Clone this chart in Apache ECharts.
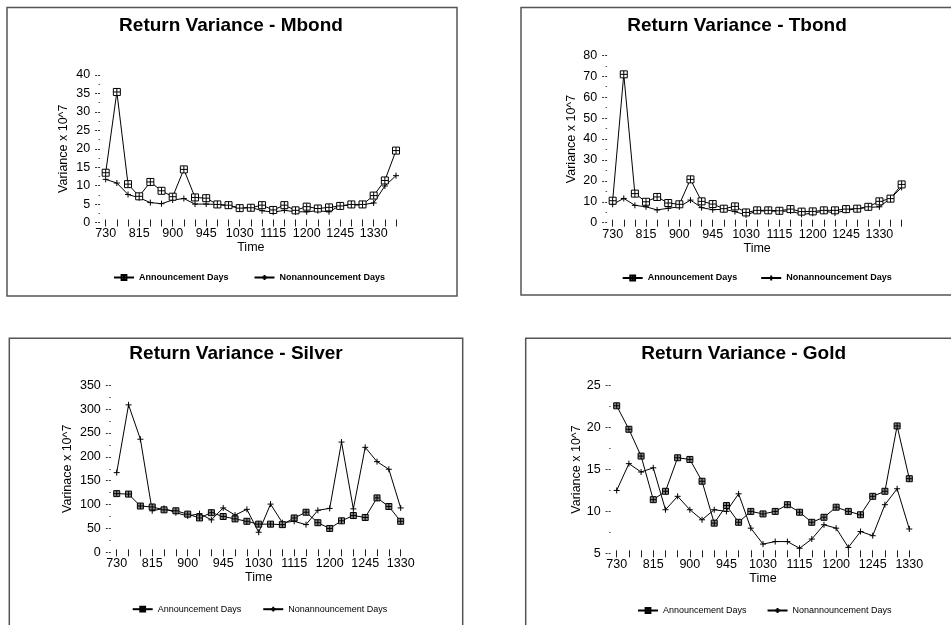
<!DOCTYPE html>
<html>
<head>
<meta charset="utf-8">
<script src="https://cdn.jsdelivr.net/npm/echarts@6/dist/echarts.min.js"></script>
<style>
  html, body { margin: 0; padding: 0; background: #fff; }
  .pane { position: absolute; left: 0; top: 0; width: 951px; height: 625px; }
</style>
</head>
<body>
<div id="c1" class="pane"></div>
<div id="c2" class="pane"></div>
<div id="c3" class="pane"></div>
<div id="c4" class="pane"></div>
<script>
// ---- Data ----
const timesBond = ['730','745','800','815','830','845','900','915','930','945','1000','1015','1030','1045','1100','1115','1130','1145','1200','1215','1230','1245','1300','1315','1330','1345','1400'];
const timesMetal = ['730','745','800','815','830','845','900','915','930','945','1000','1015','1030','1045','1100','1115','1130','1145','1200','1215','1230','1245','1300','1315','1330'];

const mbondAnn = [13.5,35.4,10.4,7.1,11.0,8.6,7.0,14.4,6.8,6.6,4.9,4.7,3.9,4.0,4.7,3.4,4.7,3.3,4.3,3.8,4.1,4.5,4.9,4.9,7.3,11.4,19.5];
const mbondNon = [11.7,10.7,7.6,6.7,5.4,5.1,6.1,6.5,5.0,5.0,4.9,4.5,3.9,4.1,3.2,2.8,3.3,2.9,2.9,3.2,2.9,4.6,4.7,4.8,5.3,9.9,12.7];

const tbondAnn = [10.5,70.9,13.9,10.0,12.3,9.4,8.8,20.7,10.2,8.9,6.7,7.8,4.9,5.9,5.9,5.7,6.5,5.3,5.4,5.9,5.9,6.5,6.7,7.6,10.2,11.5,18.3];
const tbondNon = [8.8,11.6,8.3,7.6,6.1,6.9,7.6,10.8,7.2,6.2,6.4,5.3,3.7,5.6,5.6,5.4,5.6,4.0,4.5,5.6,4.6,5.9,6.7,7.3,7.6,11.6,16.9];

const silverAnn = [123,122,97,95,89,87,80,72,83,75,70,65,59,59,58,72,84,62,50,66,77,73,114,96,65];
const silverNon = [167,309,237,87,92,83,76,81,68,93,78,90,42,101,62,65,58,88,92,231,91,220,190,174,93];

const goldAnn = [22.6,19.8,16.6,11.4,12.4,16.4,16.2,13.6,8.6,10.7,8.7,10.0,9.7,10.0,10.8,9.9,8.7,9.3,10.5,10.0,9.6,11.8,12.4,20.2,13.9];
const goldNon = [12.5,15.7,14.7,15.2,10.2,11.8,10.2,9.0,10.2,10.0,12.1,8.0,6.1,6.4,6.4,5.6,6.7,8.4,8.0,5.7,7.6,7.1,10.8,12.7,7.9];

const seriesNames = ['Announcement Days', 'Nonannouncement Days'];
// ---- End data ----

const FONT = '"Liberation Sans", Arial, sans-serif';
const SQ = 'path://M0,0H10V10H0Z M5,0V10 M0,5H10';
const PLUS = 'path://M5,0V10 M0,5H10';

function panel(cfg) {
  return {
    animation: false,
    textStyle: { fontFamily: FONT, color: '#000' },
    title: {
      text: cfg.title, left: cfg.titleX, top: cfg.titleY, textAlign: 'center', padding: 0,
      textStyle: { fontFamily: FONT, fontSize: 19, fontWeight: 'bold', color: '#000' }
    },
    legend: {
      left: cfg.legendX, top: cfg.legendY, padding: 0, itemGap: cfg.legendGap,
      itemWidth: 20, itemHeight: 6, data: seriesNames,
      selectedMode: false,
      textStyle: { fontFamily: FONT, fontSize: 9, fontWeight: cfg.legendBold ? 'bold' : 'normal', color: '#000' }
    },
    graphic: [{
      type: 'rect', silent: true,
      shape: cfg.frame,
      style: { fill: 'none', stroke: '#555', lineWidth: 1.5 }
    }],
    grid: { left: cfg.grid[0], top: cfg.grid[1], width: cfg.grid[2], height: cfg.grid[3], containLabel: false },
    xAxis: {
      type: 'category', data: cfg.cats, boundaryGap: true, offset: -3,
      name: 'Time', nameLocation: 'middle', nameGap: 22,
      nameTextStyle: { fontFamily: FONT, fontSize: 12.5, color: '#000' },
      axisLine: { show: false },
      axisTick: { show: true, alignWithLabel: true, interval: 0, length: 7, lineStyle: { color: '#222', width: 1 } },
      axisLabel: { interval: 2, margin: 8, fontFamily: FONT, fontSize: 12.5, color: '#000' },
      splitLine: { show: false }
    },
    yAxis: {
      type: 'value', min: cfg.ymin, max: cfg.ymax, interval: cfg.yint,
      name: cfg.yname, nameLocation: 'middle', nameGap: cfg.nameGap,
      nameTextStyle: { fontFamily: FONT, fontSize: 12.5, color: '#000' },
      axisLine: { show: false },
      axisTick: { show: true, length: 5, lineStyle: { color: '#333', width: 1, type: [2, 1] } },
      minorTick: { show: true, splitNumber: 2, length: 1.5, lineStyle: { color: '#555' } },
      axisLabel: { margin: 10, fontFamily: FONT, fontSize: 12.5, color: '#000' },
      splitLine: { show: false }, minorSplitLine: { show: false }
    },
    series: [
      {
        name: seriesNames[0], type: 'line', data: cfg.ann,
        symbol: SQ, symbolSize: cfg.sqSize,
        lineStyle: { color: '#000', width: 1 },
        itemStyle: { color: cfg.sqFill, borderColor: '#000', borderWidth: 1 },
        emphasis: { disabled: true }, z: 3
      },
      {
        name: seriesNames[1], type: 'line', data: cfg.non,
        symbol: PLUS, symbolSize: 6,
        lineStyle: { color: '#000', width: 1 },
        itemStyle: { color: '#000', borderColor: '#000', borderWidth: 1 },
        emphasis: { disabled: true }, z: 2
      }
    ]
  };
}

const cfgs = [
  { id: 'c1', title: 'Return Variance - Mbond', titleX: 231, titleY: 16,
    legendX: 113, legendY: 273, legendGap: 25, legendBold: true,
    frame: { x: 7, y: 7.5, width: 450, height: 288.5 },
    grid: [100.1, 75, 301.5, 147.5], cats: timesBond,
    ymin: 0, ymax: 40, yint: 5, yname: 'Variance x 10^7', nameGap: 30,
    ann: mbondAnn, non: mbondNon, sqFill: '#fff', sqSize: 7 },
  { id: 'c2', title: 'Return Variance - Tbond', titleX: 737, titleY: 16,
    legendX: 621.7, legendY: 273.5, legendGap: 23, legendBold: true,
    frame: { x: 521, y: 7.5, width: 450, height: 287.5 },
    grid: [607.1, 55.3, 300.1, 167.4], cats: timesBond,
    ymin: 0, ymax: 80, yint: 10, yname: 'Variance x 10^7', nameGap: 29,
    ann: tbondAnn, non: tbondNon, sqFill: '#fff', sqSize: 7 },
  { id: 'c3', title: 'Return Variance - Silver', titleX: 236, titleY: 344.5,
    legendX: 131.7, legendY: 604.7, legendGap: 21, legendBold: false,
    frame: { x: 9.3, y: 338.3, width: 453.4, height: 320 },
    grid: [110.8, 385.3, 295.8, 167], cats: timesMetal,
    ymin: 0, ymax: 350, yint: 50, yname: 'Varinace x 10^7', nameGap: 37,
    ann: silverAnn, non: silverNon, sqFill: '#888', sqSize: 6 },
  { id: 'c4', title: 'Return Variance - Gold', titleX: 743.7, titleY: 344.5,
    legendX: 637, legendY: 606, legendGap: 20, legendBold: false,
    frame: { x: 525.7, y: 338.3, width: 450, height: 320 },
    grid: [610.6, 385.7, 304.8, 167.6], cats: timesMetal,
    ymin: 5, ymax: 25, yint: 5, yname: 'Variance x 10^7', nameGap: 28,
    ann: goldAnn, non: goldNon, sqFill: '#888', sqSize: 6 }
];

cfgs.forEach(function (c) {
  const chart = echarts.init(document.getElementById(c.id), null, { renderer: 'canvas' });
  chart.setOption(panel(c));
});
</script>
</body>
</html>
